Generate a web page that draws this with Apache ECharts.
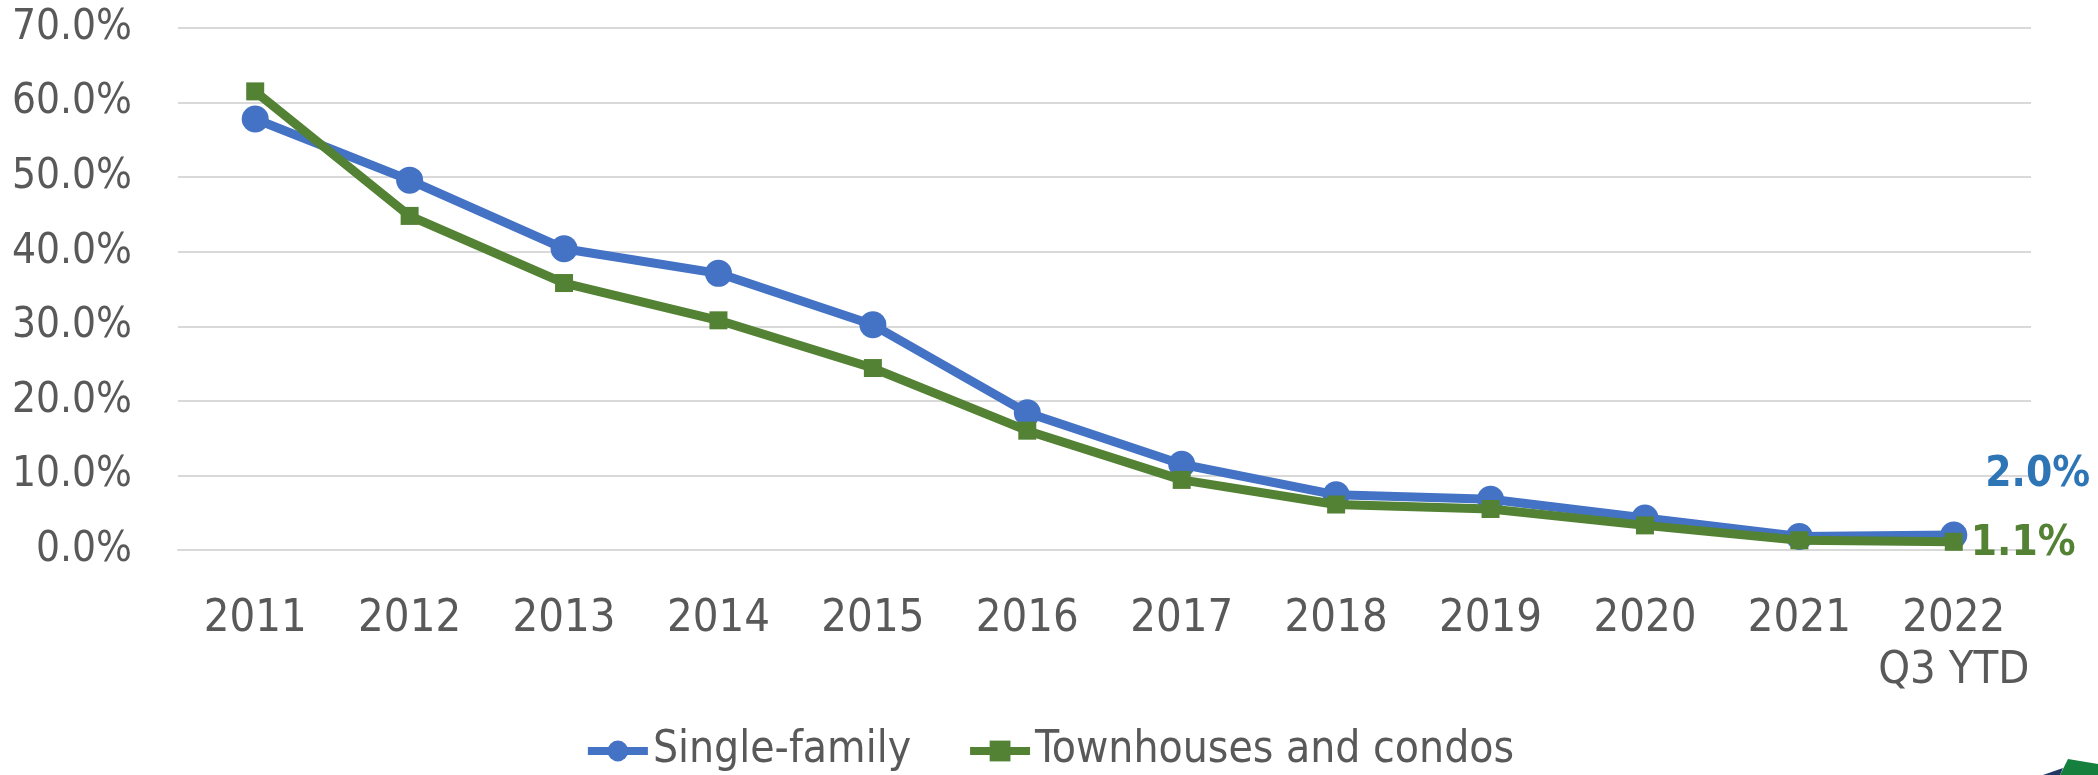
<!DOCTYPE html>
<html>
<head>
<meta charset="utf-8">
<script src="https://cdn.jsdelivr.net/npm/echarts@6/dist/echarts.min.js"></script>
<style>
  html, body { margin: 0; padding: 0; background: #fff; }
  #chart { width: 2098px; height: 775px; }
</style>
</head>
<body>
<div id="chart"></div>
<script>
// values (percent)
const years = ['2011', '2012', '2013', '2014', '2015', '2016', '2017', '2018', '2019', '2020', '2021', '2022\nQ3 YTD']
const singleFamily = [57.8, 49.6, 40.4, 37.1, 30.2, 18.4, 11.5, 7.4, 6.8, 4.3, 1.8, 2.0]
const townhouses = [61.5, 44.8, 35.8, 30.8, 24.4, 16.0, 9.4, 6.1, 5.5, 3.3, 1.3, 1.1]
const yTicks = { min: 0, max: 70, interval: 10 }

const narrow = '"Liberation Sans Narrow", "DejaVu Sans Condensed", "Liberation Sans", sans-serif'
const grey = '#595959'

// put a label on the last point only
function withEndLabel(values, color, opts) {
    return values.map((v, i) => {
        if (i !== values.length - 1) return v
        return {
            value: v,
            label: Object.assign({
                show: true,
                position: 'right',
                color: color,
                fontFamily: narrow,
                fontWeight: 'bold',
                fontSize: 42,
                formatter: p => p.value.toFixed(1) + '%'
            }, opts)
        }
    })
}

const chart = echarts.init(document.getElementById('chart'), null, { renderer: 'canvas' })

chart.setOption({
    backgroundColor: '#ffffff',
    animation: false,
    grid: { left: 178, right: 67, top: 28, bottom: 225, containLabel: false, outerBoundsMode: 'none' },
    legend: {
        left: 'center',
        top: 724,
        itemWidth: 60,
        itemHeight: 26,
        itemGap: 55,
        lineStyle: { width: 8 },
        textStyle: { color: grey, fontFamily: narrow, fontSize: 44 },
        data: ['Single-family', 'Townhouses and condos']
    },
    xAxis: {
        type: 'category',
        data: years,
        boundaryGap: true,
        axisLine: { show: true, lineStyle: { color: '#D9D9D9', width: 2 } },
        axisTick: { show: false },
        axisLabel: {
            color: grey,
            fontFamily: narrow,
            fontSize: 45,
            lineHeight: 52,
            margin: 43,
            interval: 0
        }
    },
    yAxis: {
        type: 'value',
        min: yTicks.min,
        max: yTicks.max,
        interval: yTicks.interval,
        axisLine: { show: false },
        axisTick: { show: false },
        splitLine: { lineStyle: { color: '#D9D9D9', width: 2 } },
        axisLabel: {
            color: grey,
            fontFamily: narrow,
            fontSize: 42,
            margin: 46,
            formatter: v => v.toFixed(1) + '%'
        }
    },
    series: [
        {
            name: 'Single-family',
            type: 'line',
            data: withEndLabel(singleFamily, '#2E75B6', { distance: 18, offset: [0, -60] }),
            symbol: 'circle',
            symbolSize: 27,
            lineStyle: { color: '#4472C4', width: 9 },
            itemStyle: { color: '#4472C4' },
            z: 2
        },
        {
            name: 'Townhouses and condos',
            type: 'line',
            data: withEndLabel(townhouses, '#548235', { distance: 8, offset: [0, 2] }),
            symbol: 'rect',
            symbolSize: 18,
            lineStyle: { color: '#548235', width: 9 },
            itemStyle: { color: '#548235' },
            z: 3
        }
    ],
    graphic: [
        { type: 'polygon', shape: { points: [[2043, 775], [2063, 768], [2060, 775]] }, style: { fill: '#1F3864' } },
        { type: 'polygon', shape: { points: [[2060, 775], [2068, 759], [2098, 764], [2098, 775]] }, style: { fill: '#15803D' } }
    ]
})

window.addEventListener('resize', () => chart.resize())
</script>
</body>
</html>
